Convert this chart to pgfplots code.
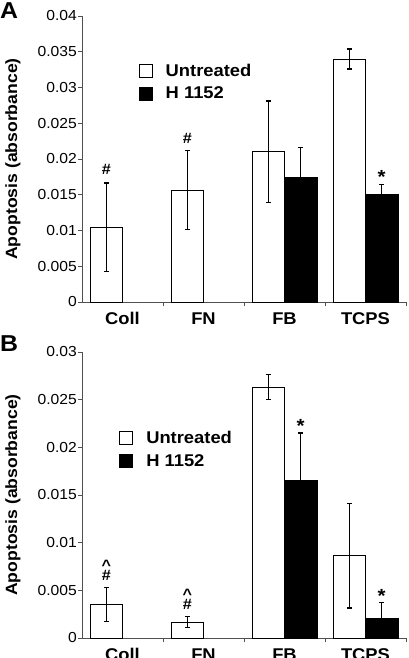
\documentclass[border=0pt]{standalone}
\usepackage{pgfplots}
\usepackage{pgfplotstable}
\pgfplotsset{compat=1.18}
\usepackage{fontspec}
\setmainfont[FakeStretch=1.08]{Liberation Sans}

\pgfplotstableread{
x y e
0 0.01045 0.0062
1 0.01566 0.0055
2 0.02102 0.0071
3 0.03399 0.0014
}\Aun
\pgfplotstableread{
x y e
2 0.01739 0.0042
3 0.01506 0.0014
}\Ah
\pgfplotstableread{
x y e
0 0.00350 0.0018
1 0.00168 0.0006
2 0.02630 0.0013
3 0.00864 0.0055
}\Bun
\pgfplotstableread{
x y e
2 0.01650 0.0050
3 0.00203 0.0017
}\Bh

\definecolor{axisgray}{HTML}{505050}

\tikzset{ann/.style={font=\bfseries\fontsize{15}{15}\selectfont, anchor=south, inner sep=0pt},
  star/.style={font=\bfseries\fontsize{19}{19}\selectfont, anchor=south, inner sep=0pt}}

\pgfplotsset{
  panel/.style={
    scale only axis,
    width=324pt,
    height=286pt,
    anchor=south west,
    ymin=0,
    xmin=-0.5, xmax=3.5,
    axis x line*=bottom,
    axis y line*=left,
    axis line style={-, axisgray, line width=0.8pt},
    xtick={0,1,2,3},
    xticklabels={Coll,FN,FB,TCPS},
    major x tick style={draw=none},
    minor xtick={0.5,1.5,2.5,3.5},
    minor x tick style={axisgray, line width=0.8pt},
    xtick align=inside,
    minor tick length=4pt,
    ytick align=outside,
    major tick length=4pt,
    y tick style={axisgray, line width=0.8pt},
    scaled y ticks=false,
    y tick label style={inner sep=1pt},
    yticklabel={\fontsize{14.5}{16}\selectfont\pgfmathprintnumber[fixed, precision=3, assume math mode=true]{\tick}},
    x tick label style={font=\bfseries\fontsize{17}{18}\selectfont, yshift=-3pt},
    every axis y label/.style={at={(axis description cs:-0.213,0.5)}, rotate=90, anchor=center,
      font=\bfseries\fontsize{16.3}{18}\selectfont},
    ylabel={Apoptosis (absorbance)},
    ybar,
    bar width=0.4,
    legend cell align=left,
    legend style={draw=none, fill=none, font=\bfseries\fontsize{17}{18}\selectfont,
      anchor=north west, inner sep=0pt, row sep=5pt, column sep=11pt},
    legend image code/.code={\draw[#1, line width=0.8pt] (0pt,-6.5pt) rectangle (13pt,6.5pt);},
  },
  barun/.style={fill=white, draw=black, line width=0.8pt, bar shift=-0.2,
    error bars/.cd, y dir=both, y explicit,
    error bar style={line width=1.2pt, black},
    error mark options={rotate=90, mark size=2.5pt, line width=1.2pt, black}},
  barh/.style={fill=black, draw=black, line width=0.8pt, bar shift=0.2,
    error bars/.cd, y dir=both, y explicit,
    error bar style={line width=1.2pt, black},
    error mark options={rotate=90, mark size=2.5pt, line width=1.2pt, black}},
}

\begin{document}
\begin{tikzpicture}
\useasboundingbox (0,0) rectangle (408pt,-658pt);
\node[anchor=north west, inner sep=0pt, font=\bfseries\fontsize{23}{23}\selectfont] at (0pt,-2pt) {A};
\node[anchor=north west, inner sep=0pt, font=\bfseries\fontsize{23}{23}\selectfont] at (0pt,-335pt) {B};

\begin{axis}[panel, at={(82pt,-302pt)}, ymax=0.04,
  ytick={0,0.005,0.01,0.015,0.02,0.025,0.03,0.035,0.04},
  legend style={at={(axis description cs:0.175,0.84)}}]
\addplot[barun] table[x=x, y=y, y error=e] {\Aun};
\addplot[barh] table[x=x, y=y, y error=e] {\Ah};
\legend{Untreated, H 1152}
\node[ann] at (axis cs:-0.2,0.01665) [yshift=8pt] {\#};
\node[ann] at (axis cs:0.8,0.02116) [yshift=7pt] {\#};
\node[star] at (axis cs:3.2,0.0165) [yshift=0pt] {*};
\end{axis}

\begin{axis}[panel, at={(82pt,-638pt)}, ymax=0.03,
  ytick={0,0.005,0.01,0.015,0.02,0.025,0.03},
  legend style={at={(axis description cs:0.115,0.73)}}]
\addplot[barun] table[x=x, y=y, y error=e] {\Bun};
\addplot[barh] table[x=x, y=y, y error=e] {\Bh};
\legend{Untreated, H 1152}
\node[ann] at (axis cs:-0.2,0.0053) [yshift=6.5pt] {\#};
\node[ann] at (axis cs:-0.2,0.0053) [yshift=17pt] {\textasciicircum};
\node[ann] at (axis cs:0.8,0.00227) [yshift=6.5pt] {\#};
\node[ann] at (axis cs:0.8,0.00227) [yshift=17pt] {\textasciicircum};
\node[star] at (axis cs:2.2,0.0215) [yshift=0pt] {*};
\node[star] at (axis cs:3.2,0.0037) [yshift=0pt] {*};
\end{axis}
\end{tikzpicture}
\end{document}
